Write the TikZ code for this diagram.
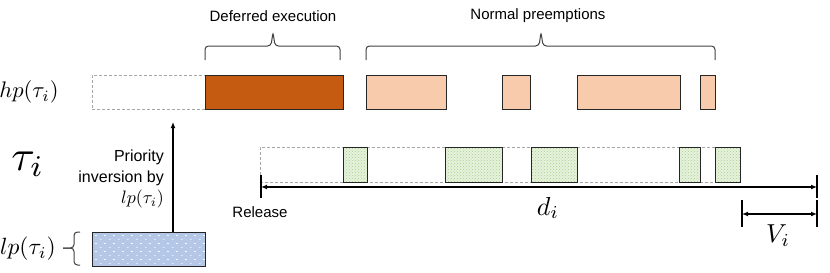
\documentclass[tikz,border=0pt]{standalone}
\usepackage{fontspec}
\setmainfont{Liberation Sans}
\usetikzlibrary{arrows.meta,patterns,patterns.meta,shadows}
\definecolor{deforange}{HTML}{C55A11}
\definecolor{pinkbox}{HTML}{F8CBAD}
\definecolor{greenbox}{HTML}{E6F2DD}
\definecolor{greendot}{HTML}{A9D18E}
\definecolor{bluebox}{HTML}{B4C7E7}
\definecolor{dashgray}{HTML}{A6A6A6}
\definecolor{bracegray}{HTML}{404040}
\tikzdeclarepattern{
  name=wdash, type=uncolored,
  bounding box={(0pt,0pt) and (9pt,8pt)},
  tile size={(9pt,8pt)},
  code={
    \draw[line width=0.7pt] (1pt,2pt) -- (3pt,2pt);
    \draw[line width=0.7pt] (5.5pt,6pt) -- (7.5pt,6pt);
  }
}
\newcommand{\smallmath}[2]{\scalebox{#1}{\fontsize{10}{12}\selectfont$#2$}}
\begin{document}
\begin{tikzpicture}[x=1pt,y=-1pt,
  box/.style={draw=black!85, line width=0.9pt, inner sep=0pt, outer sep=0pt,
    anchor=north west, minimum height=34pt,
    drop shadow={shadow xshift=1.4pt, shadow yshift=-1.4pt, opacity=0.35, fill=black}},
  dashbox/.style={draw=dashgray, dash pattern=on 3pt off 2pt, line width=0.8pt,
    inner sep=0pt, outer sep=0pt, anchor=north west, minimum height=34pt},
  hpbox/.style={box, fill=pinkbox},
  defbox/.style={box, fill=deforange},
  taubox/.style={box, minimum height=35pt, preaction={fill=greenbox},
    pattern=crosshatch dots, pattern color=greendot},
  lpbox/.style={box, preaction={fill=bluebox}, pattern=wdash, pattern color=white!85!bluebox},
  bracestyle/.style={draw=bracegray, line width=1pt, rounded corners=3.5pt},
  toplabel/.style={font=\fontsize{15}{18}\selectfont, inner sep=0pt},
  mathlabel/.style={inner sep=0pt},
  dimarrow/.style={line width=1.6pt, {Latex[length=6pt,width=5pt]}-{Latex[length=6pt,width=5pt]}},
  barline/.style={line width=1.8pt}
]
\useasboundingbox (0,0) rectangle (830,273);

% hp row
\node[dashbox, minimum width=113pt] (hpwait) at (92,75) {};
\node[defbox, minimum width=138pt] (hpdef) at (205,75) {};
\node[hpbox, minimum width=80pt] (hp1) at (366,75) {};
\node[hpbox, minimum width=28pt] (hp2) at (502,75) {};
\node[hpbox, minimum width=103pt] (hp3) at (577,75) {};
\node[hpbox, minimum width=15pt] (hp4) at (700,75) {};

% tau row
\node[dashbox, minimum width=480pt, minimum height=35pt] (tauwin) at (260,147) {};
\node[taubox, minimum width=24pt] (t1) at (343,147) {};
\node[taubox, minimum width=57pt] (t2) at (445,147) {};
\node[taubox, minimum width=46pt] (t3) at (531,147) {};
\node[taubox, minimum width=21pt] (t4) at (679,147) {};
\node[taubox, minimum width=25pt] (t5) at (715,147) {};

% lp box
\node[lpbox, minimum width=113pt] (lpb) at (92,232) {};

% row labels
\node[mathlabel, scale=2.25] (hplab) at (29,92) {$hp(\tau_i)$};
\node[mathlabel, scale=4.3] (taulab) at (28,164) {$\tau_i$};
\node[mathlabel, scale=2.35] (lplab) at (28,249) {$lp(\tau_i)$};

% braces
\draw[bracestyle] (205,60) -- (205,46) -- (271,46) -- (273,32) -- (275,46) -- (340,46) -- (340,60);
\node[toplabel] (deflab) at (273,16) {Deferred execution};
\draw[bracestyle] (366,60) -- (366,46) -- (539,46) -- (541,32) -- (543,46) -- (715,46) -- (715,60);
\node[toplabel] (normlab) at (538,16) {Normal preemptions};
\draw[bracestyle] (80,232) -- (74,232) -- (74,248) -- (63,248);
\draw[bracestyle] (63,248) -- (74,248) -- (74,265) -- (80,265);

% priority inversion arrow
\coordinate (pitop) at (173,122);
\draw[line width=1.4pt, -{Latex[length=6pt,width=5pt]}] (lpb.north -| pitop) -- (pitop);
\node[anchor=east, align=right, inner sep=0pt, font=\fontsize{16}{21}\selectfont] (pilab) at (164,179)
  {Priority\\inversion by\\\smallmath{1.8}{lp(\tau_i)}};

% deadline arrow
\coordinate (rel) at (261,187);
\coordinate (dl) at (817,187);
\draw[barline] (261,175) -- (261,198);
\draw[barline] (817,175) -- (817,198);
\draw[dimarrow] (rel) -- (dl);
\node[toplabel] (rellab) at (260,212) {Release};
\node[mathlabel, scale=2.6] (dlab) at (548,208) {$d_i$};

% V_i arrow
\coordinate (va) at (742,214);
\coordinate (vb) at (817,214);
\draw[barline] (742,200) -- (742,227);
\draw[barline] (817,200) -- (817,227);
\draw[dimarrow] (va) -- (vb);
\node[mathlabel, scale=2.6] (vlab) at (778,236) {$V_i$};
\end{tikzpicture}
\end{document}
